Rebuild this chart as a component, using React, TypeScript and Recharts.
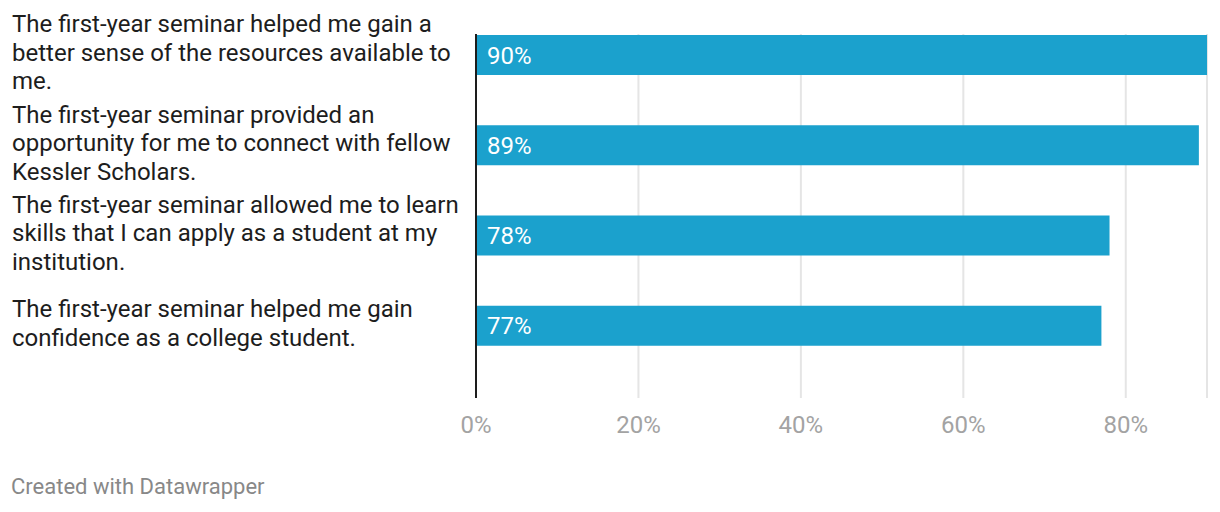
import React from 'react';
import { BarChart, Bar, XAxis, YAxis, CartesianGrid, LabelList } from 'recharts';

// survey statements (category axis) and share of agreeing scholars
const statements = [
  'The first-year seminar helped me gain a better sense of the resources available to me.',
  'The first-year seminar provided an opportunity for me to connect with fellow Kessler Scholars.',
  'The first-year seminar allowed me to learn skills that I can apply as a student at my institution.',
  'The first-year seminar helped me gain confidence as a college student.',
];
const shares = [90, 89, 78, 77];
const xTicks = [0, 20, 40, 60, 80];

const data = statements.map((statement, i) => ({ statement, share: shares[i] }));

const FONT = 'Roboto, sans-serif';
const LABEL_SIZE = 24;
const LINE_HEIGHT = 28.5;
const WRAP_WIDTH = 460;

let ctx: CanvasRenderingContext2D | null = null;
const measure = (t: string) => {
  if (!ctx) ctx = document.createElement('canvas').getContext('2d');
  if (!ctx) return t.length * 10;
  ctx.font = `${LABEL_SIZE}px Roboto`;
  return ctx.measureText(t).width;
};

// greedy word wrap, like the html labels datawrapper uses
const wrap = (text: string) => {
  const lines: string[] = [];
  let cur = '';
  text.split(' ').forEach(w => {
    const next = cur ? `${cur} ${w}` : w;
    if (cur && measure(next) > WRAP_WIDTH) {
      lines.push(cur);
      cur = w;
    } else {
      cur = next;
    }
  });
  if (cur) lines.push(cur);
  return lines;
};

const StatementTick = (props: any) => {
  const { y, payload } = props;
  const lines = wrap(String(payload.value));
  const top = y - ((lines.length - 1) * LINE_HEIGHT) / 2;
  return (
    <g>
      {lines.map((line, i) => (
        <text
          key={i}
          x={12}
          y={top + i * LINE_HEIGHT}
          dy="0.24em"
          textAnchor="start"
          fontFamily={FONT}
          fontSize={LABEL_SIZE}
          fill="#1d1d1d"
        >
          {line}
        </text>
      ))}
    </g>
  );
};

const PercentTick = (props: any) => {
  const { x, y, payload } = props;
  return (
    <text x={x} y={y} dy={35} textAnchor="middle" fontFamily={FONT} fontSize={24} fill="#a3a3a3">
      {`${payload.value}%`}
    </text>
  );
};

export default function App() {
  return (
    <div style={{ position: 'absolute', left: 0, top: 0, width: 1220, height: 512, background: '#fff', fontFamily: FONT }}>
      <BarChart
        width={1220}
        height={512}
        data={data}
        layout="vertical"
        margin={{ top: 34, right: 13, left: 0, bottom: 84 }}
      >
        <CartesianGrid horizontal={false} stroke="#e5e5e5" strokeWidth={2} />
        <XAxis
          type="number"
          dataKey="share"
          domain={[0, 90]}
          ticks={xTicks}
          height={30}
          axisLine={false}
          tickLine={false}
          tickSize={0}
          tickMargin={0}
          tick={<PercentTick />}
          allowDataOverflow
        />
        <YAxis
          type="category"
          dataKey="statement"
          width={476}
          padding={{ top: -24, bottom: 27 }}
          axisLine={{ stroke: '#1d1d1d', strokeWidth: 2 }}
          tickLine={false}
          tick={<StatementTick />}
          interval={0}
        />
        <Bar dataKey="share" fill="#1ba1cd" barSize={40} isAnimationActive={false}>
          <LabelList
            dataKey="share"
            position="insideLeft"
            offset={11}
            formatter={(v: any) => `${v}%`}
            fill="#ffffff"
            fontSize={24}
            fontFamily={FONT}
          />
        </Bar>
      </BarChart>
      <div style={{ position: 'absolute', left: 11, top: 474, fontSize: 22, color: '#888888', fontFamily: FONT }}>
        Created with Datawrapper
      </div>
    </div>
  );
}
